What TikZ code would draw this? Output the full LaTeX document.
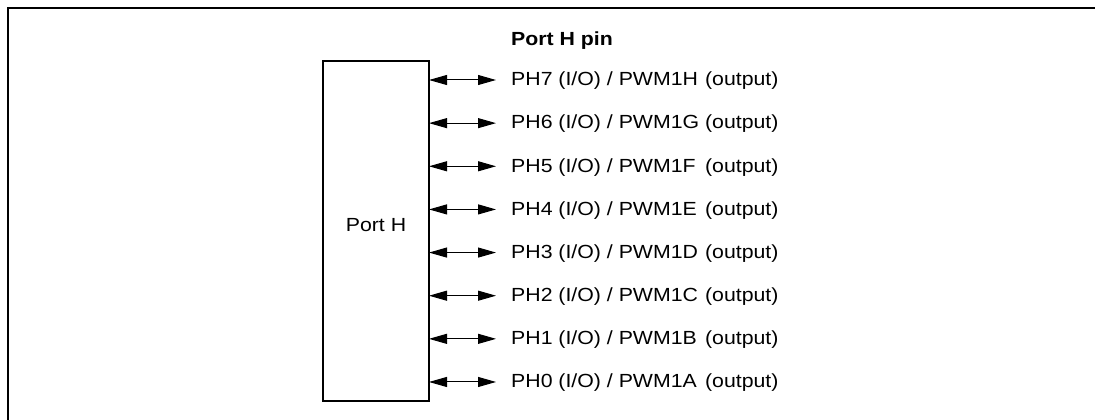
\documentclass[tikz,border=0pt]{standalone}
\usepackage{fontspec}
\setmainfont{Liberation Sans}[FakeStretch=1.12]
\usetikzlibrary{arrows.meta}
\begin{document}
\begin{tikzpicture}[x=1pt,y=-1pt,
  frame/.style={line width=1.3pt,black},
  portbox/.style={draw=black,line width=1.3pt},
  pinarrow/.style={line width=1pt,{Triangle[length=18pt,width=10pt]}-{Triangle[length=18pt,width=10pt]}},
  pinlabel/.style={anchor=base west,inner sep=0pt,font=\fontsize{19}{21}\selectfont},
  titlelabel/.style={anchor=base west,inner sep=0pt,font=\fontsize{19}{21}\selectfont\bfseries}]
\useasboundingbox (0,0) rectangle (1095,420);
\draw[frame] (8,420) -- (8,8) -- (1095,8);
\node[titlelabel] (title) at (511,45.7) {Port H pin};
\coordinate (boxnw) at (323,61);
\coordinate (boxse) at (429,401);
\draw[portbox] (boxnw) rectangle (boxse);
\node[anchor=base,inner sep=0pt,font=\fontsize{19}{21}\selectfont] (porth) at (376,231) {Port H};
\foreach \i/\pin/\pwm in {0/7/H,1/6/G,2/5/F,3/4/E,4/3/D,5/2/C,6/1/B,7/0/A}{
  \pgfmathsetmacro{\yy}{80+43.14*\i}
  \coordinate (s\pin) at (429,\yy);
  \coordinate (e\pin) at (496,\yy);
  \draw[pinarrow] (s\pin) -- (e\pin);
  \node[pinlabel] (l\pin) at (511,\yy+5.8) {PH\pin{} (I/O) / \rlap{PWM1\pwm}\phantom{PWM1G} (output)};
}
\end{tikzpicture}
\end{document}
